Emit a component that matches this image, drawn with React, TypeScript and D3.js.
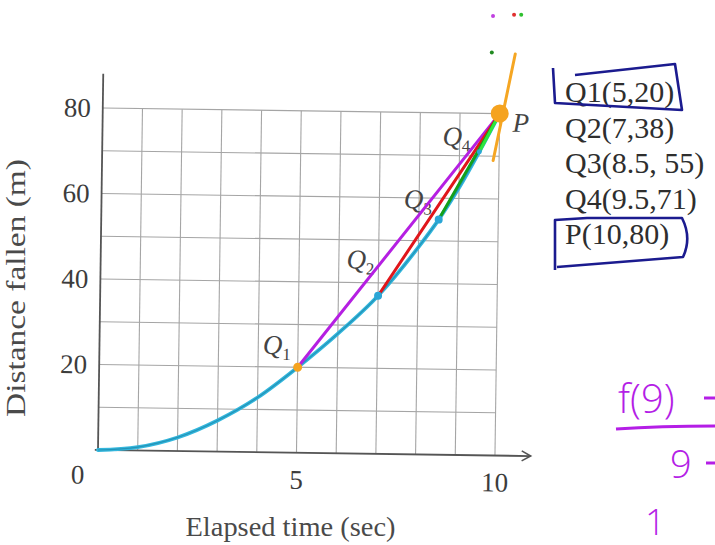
import React from "react";
import * as d3 from "d3";

// ---- data ----
const curveTime = [0, 1, 2, 3, 4, 5, 6, 7, 8, 8.5, 9, 9.5, 10];
const curveDistance = [0, 0.8, 3.2, 7.3, 12.8, 20, 28, 37, 48.5, 55, 62.5, 71, 80];

const pointNames = ["Q1", "Q2", "Q3", "Q4", "P"];
const pointTime = [5, 7, 8.5, 9.5, 10];
const pointDistance = [20, 37, 55, 71, 80];

const tangentTime = [9.85, 10.37];
const tangentDistance = [69, 94];

const gridXValues = [1, 2, 3, 4, 5, 6, 7, 8, 9, 10];
const gridYValues = [10, 20, 30, 40, 50, 60, 70, 80];
const xTickValues = [5, 10];
const yTickValues = [20, 40, 60, 80];

const listLabels = ["Q1(5,20)", "Q2(7,38)", "Q3(8.5, 55)", "Q4(9.5,71)", "P(10,80)"];

const speckTime = [9.95, 10.48, 10.66, 9.92];
const speckDistance = [101.5, 101.8, 101.8, 93];

// ---- styles ----
const secantColors = ["#b51fe2", "#e0161b", "#13a01b", "#2ee63a"];
const pointColors = ["#f5a31f", "#2ba6d6", "#2ba6d6", "#2ba6d6", "#f5a31f"];
const pointRadius = [4.5, 4, 4, 2.5, 9];
const labelOffsets = [
  [-35, -13],
  [-32, -27],
  [-35, -11],
  [-37, -6],
  [13, 18],
];
const speckColors = ["#c040e0", "#e03030", "#30c030", "#208a20"];

const W = 715;
const H = 545;
const serif = "'Liberation Serif', 'Times New Roman', serif";
const hand = "'Open Sans', 'Noto Sans', sans-serif";
const ink = "#b41ee6";

export default function App() {
  const x = d3.scaleLinear().domain([0, 10]).range([98, 495]);
  const y = d3.scaleLinear().domain([0, 80]).range([450, 108]);

  const curvePts: [number, number][] = curveTime.map((t, i) => [t, curveDistance[i]]);
  const line = d3
    .line<[number, number]>()
    .x((d) => x(d[0]))
    .y((d) => y(d[1]))
    .curve(d3.curveMonotoneX);

  const P = pointNames.length - 1;
  const ax = x(10.9);
  const ay = y(0);

  const listX = 565;
  const listB0 = 102;
  const listStep = 35.5;

  const box1B = listB0;
  const box2B = listB0 + listStep * 4;

  return (
    <svg
      width={W}
      height={H}
      viewBox={`0 0 ${W} ${H}`}
      style={{ position: "absolute", left: 0, top: 0, background: "#fff" }}
    >
      <rect x={0} y={0} width={W} height={H} fill="#fff" />
      <g transform={`rotate(0.8, ${x(0)}, ${y(0)})`}>
        {/* grid */}
        {gridXValues.map((v) => (
          <line key={"gx" + v} x1={x(v)} x2={x(v)} y1={y(0)} y2={y(80)} stroke="#a5a5a5" strokeWidth={1.1} />
        ))}
        {gridYValues.map((v) => (
          <line key={"gy" + v} x1={x(0)} x2={x(10)} y1={y(v)} y2={y(v)} stroke="#a5a5a5" strokeWidth={1.1} />
        ))}
        {/* axes */}
        <line x1={x(0)} x2={x(0)} y1={y(0)} y2={y(88)} stroke="#555" strokeWidth={1.8} />
        <line x1={x(-0.08)} x2={ax} y1={ay} y2={ay} stroke="#555" strokeWidth={1.8} />
        <polyline
          points={`${ax - 9},${ay - 5} ${ax},${ay} ${ax - 9},${ay + 5}`}
          fill="none"
          stroke="#555"
          strokeWidth={1.6}
        />
        {/* tick labels */}
        {yTickValues.map((v) => (
          <text key={"yt" + v} x={x(0) - 12} y={y(v) + 9} textAnchor="end" fontFamily={serif} fontSize={27} fill="#3c3c3c">
            {v}
          </text>
        ))}
        <text x={x(0) - 20} y={y(0) + 34} textAnchor="middle" fontFamily={serif} fontSize={27} fill="#3c3c3c">
          0
        </text>
        {xTickValues.map((v) => (
          <text key={"xt" + v} x={x(v)} y={y(0) + 36} textAnchor="middle" fontFamily={serif} fontSize={27} fill="#3c3c3c">
            {v}
          </text>
        ))}
        {/* curve */}
        <path d={line(curvePts) || ""} fill="none" stroke="#33b6dc" strokeWidth={3.8} strokeLinecap="round" />
        <path d={line(curvePts) || ""} fill="none" stroke="#1c86aa" strokeWidth={1.2} opacity={0.7} />
        {/* point labels */}
        {pointNames.map((n, i) => (
          <text
            key={"lab" + n}
            x={x(pointTime[i]) + labelOffsets[i][0]}
            y={y(pointDistance[i]) + labelOffsets[i][1]}
            fontFamily={serif}
            fontStyle="italic"
            fontSize={27}
            fill="#444"
          >
            {n[0]}
            {n.length > 1 && (
              <tspan fontSize={17} dy={6} fontStyle="normal">
                {n.slice(1)}
              </tspan>
            )}
          </text>
        ))}
        {/* secant lines */}
        {secantColors.map((c, i) => (
          <line
            key={"sec" + i}
            x1={x(pointTime[i])}
            y1={y(pointDistance[i])}
            x2={x(pointTime[P])}
            y2={y(pointDistance[P])}
            stroke={c}
            strokeWidth={3}
            strokeLinecap="round"
          />
        ))}
        {/* tangent */}
        <line
          x1={x(tangentTime[0])}
          y1={y(tangentDistance[0])}
          x2={x(tangentTime[1])}
          y2={y(tangentDistance[1])}
          stroke="#f5a623"
          strokeWidth={3}
          strokeLinecap="round"
        />
        {/* points */}
        {pointNames.map((n, i) => (
          <circle key={"pt" + n} cx={x(pointTime[i])} cy={y(pointDistance[i])} r={pointRadius[i]} fill={pointColors[i]} />
        ))}
      </g>

      {/* specks */}
      {speckTime.map((t, i) => (
        <circle key={"sp" + i} cx={x(t)} cy={y(speckDistance[i])} r={2} fill={speckColors[i]} />
      ))}

      {/* axis titles */}
      <text
        transform={`translate(${x(0) - 73}, ${(y(0) + y(80)) / 2 + 9}) rotate(-90)`}
        textAnchor="middle"
        fontFamily={serif}
        fontSize={27}
        fill="#4a4a4a"
        textLength={258}
        lengthAdjust="spacingAndGlyphs"
      >
        Distance fallen (m)
      </text>
      <text
        x={(x(0) + x(10)) / 2 - 6}
        y={536}
        textAnchor="middle"
        fontFamily={serif}
        fontSize={27}
        fill="#4a4a4a"
        textLength={210}
        lengthAdjust="spacingAndGlyphs"
      >
        Elapsed time (sec)
      </text>

      {/* coordinate list */}
      {listLabels.map((s, i) => (
        <text key={"ls" + i} x={listX} y={listB0 + i * listStep} fontFamily={serif} fontSize={30} fill="#2e2e2e">
          {s}
        </text>
      ))}
      <path
        d={`M${listX + 10},${box1B - 27} L${listX + 110},${box1B - 38} L${listX + 117},${box1B + 8} L${listX - 10},${box1B + 1} L${listX - 12},${box1B - 34}`}
        fill="none"
        stroke="#1b1b8f"
        strokeWidth={2.6}
        strokeLinejoin="round"
      />
      <path
        d={`M${listX - 10},${box2B + 26} L${listX - 10},${box2B - 24} L${listX + 22},${box2B - 26} L${listX + 117},${box2B - 26} Q${listX + 127},${box2B - 6} ${listX + 118},${box2B + 13} L${listX - 8},${box2B + 23}`}
        fill="none"
        stroke="#1b1b8f"
        strokeWidth={2.6}
        strokeLinejoin="round"
      />

      {/* handwritten note */}
      <text x={618} y={413} fontFamily={hand} fontWeight={300} fontSize={40} fill={ink}>
        f(9)
      </text>
      <line x1={704} y1={398} x2={715} y2={398} stroke={ink} strokeWidth={3} />
      <path d="M616,429 Q660,426 715,426" fill="none" stroke={ink} strokeWidth={3} />
      <text x={670} y={478} fontFamily={hand} fontWeight={300} fontSize={38} fill={ink}>
        9
      </text>
      <line x1={706} y1={463} x2={715} y2={463} stroke={ink} strokeWidth={3} />
      <text x={645} y={535} fontFamily={hand} fontWeight={300} fontSize={36} fill={ink}>
        1
      </text>
    </svg>
  );
}
